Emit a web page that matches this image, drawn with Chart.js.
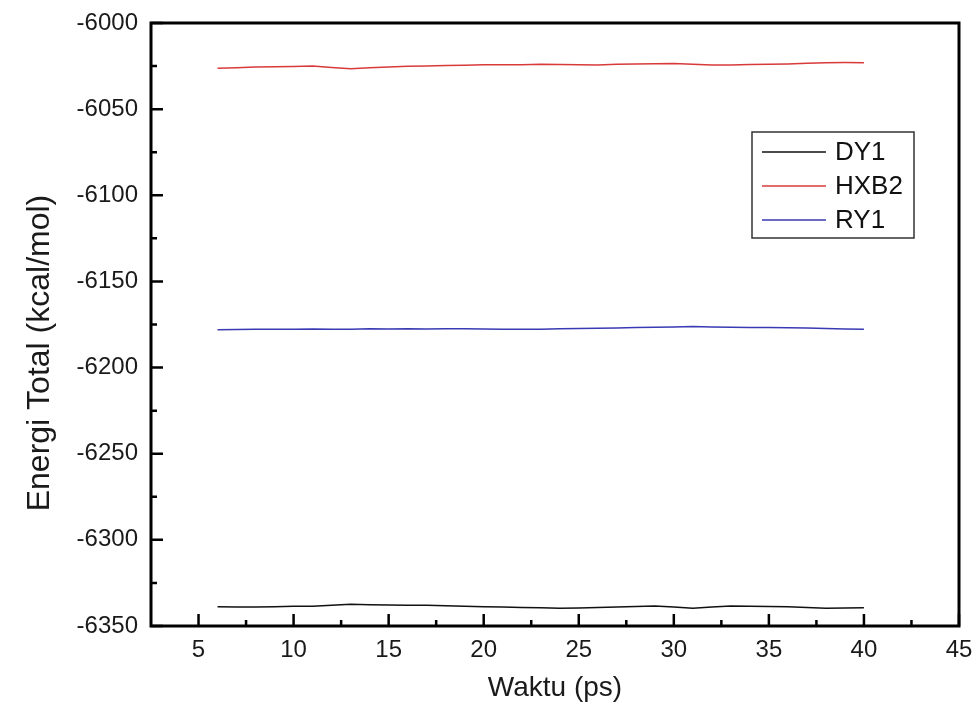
<!DOCTYPE html>
<html>
<head>
<meta charset="utf-8">
<script src="https://cdn.jsdelivr.net/npm/chart.js@4.4.1/dist/chart.umd.min.js"></script>
<style>
  html, body { margin: 0; padding: 0; background: #fff; }
  canvas { display: block; }
</style>
</head>
<body>
<canvas id="chart" width="976" height="709"></canvas>
<script>
// Time axis (ps) and total energy per system (kcal/mol)
const waktu = [6, 7, 8, 9, 10, 11, 12, 13, 14, 15, 16, 17, 18, 19, 20, 21, 22, 23,
    24, 25, 26, 27, 28, 29, 30, 31, 32, 33, 34, 35, 36, 37, 38, 39, 40];

const dy1 = [-6338.8, -6338.9, -6339.0, -6338.8, -6338.6, -6338.5, -6338.0, -6337.4, -6337.6,
    -6337.8, -6337.9, -6338.0, -6338.3, -6338.6, -6338.8, -6338.9, -6339.2, -6339.4, -6339.7,
    -6339.5, -6339.3, -6339.0, -6338.7, -6338.4, -6339.0, -6339.7, -6339.0, -6338.4, -6338.6,
    -6338.7, -6338.8, -6339.2, -6339.7, -6339.5, -6339.4];

const hxb2 = [-6026.2, -6026.0, -6025.6, -6025.4, -6025.2, -6025.0, -6025.8, -6026.5, -6026.0,
    -6025.6, -6025.1, -6024.9, -6024.7, -6024.5, -6024.3, -6024.2, -6024.3, -6024.0, -6024.1,
    -6024.3, -6024.4, -6024.0, -6023.8, -6023.6, -6023.5, -6024.0, -6024.4, -6024.4, -6024.1,
    -6024.0, -6023.8, -6023.4, -6023.0, -6022.9, -6023.0];

const ry1 = [-6178.0, -6177.9, -6177.8, -6177.8, -6177.7, -6177.6, -6177.8, -6177.7, -6177.5,
    -6177.6, -6177.4, -6177.6, -6177.5, -6177.4, -6177.6, -6177.7, -6177.8, -6177.8, -6177.5,
    -6177.3, -6177.2, -6177.0, -6176.8, -6176.6, -6176.4, -6176.2, -6176.4, -6176.6, -6176.7,
    -6176.8, -6176.9, -6177.1, -6177.3, -6177.6, -6177.8];

const seriesNames = ['DY1', 'HXB2', 'RY1'];
const seriesColors = ['#111111', '#d83a3a', '#3a3ab4'];

const xTicks = [5, 10, 15, 20, 25, 30, 35, 40, 45];
const yTicks = [-6000, -6050, -6100, -6150, -6200, -6250, -6300, -6350];

const FONT = "'Liberation Sans', Arial, sans-serif";

function toPoints(ys) {
    return ys.map((y, i) => ({ x: waktu[i], y: y }));
}

// frame with inward major/minor ticks, like the Origin plot
const framePlugin = {
    id: 'frame',
    afterDatasetsDraw(chart) {
        const { ctx, chartArea: a, scales } = chart;
        const xs = scales.x, ys = scales.y;
        ctx.save();
        ctx.strokeStyle = '#000';
        ctx.lineWidth = 2.5;
        ctx.beginPath();
        xTicks.forEach(v => {
            const px = xs.getPixelForValue(v);
            ctx.moveTo(px, a.bottom);
            ctx.lineTo(px, a.bottom - 12);
            const m = v + 2.5;
            if (m < xs.max) {
                const pm = xs.getPixelForValue(m);
                ctx.moveTo(pm, a.bottom);
                ctx.lineTo(pm, a.bottom - 6);
            }
        });
        yTicks.forEach(v => {
            const py = ys.getPixelForValue(v);
            ctx.moveTo(a.left, py);
            ctx.lineTo(a.left + 12, py);
            const m = v + 25;
            if (m < ys.max) {
                const pm = ys.getPixelForValue(m);
                ctx.moveTo(a.left, pm);
                ctx.lineTo(a.left + 6, pm);
            }
        });
        ctx.stroke();
        ctx.lineWidth = 3;
        ctx.strokeRect(a.left, a.top, a.right - a.left, a.bottom - a.top);
        ctx.restore();
    }
};

// boxed legend inside the plot, upper right
const legendPlugin = {
    id: 'boxLegend',
    afterDraw(chart) {
        const ctx = chart.ctx;
        ctx.save();
        ctx.strokeStyle = '#333';
        ctx.lineWidth = 1.5;
        ctx.strokeRect(752, 132, 162, 106);
        ctx.font = '26px ' + FONT;
        ctx.textBaseline = 'middle';
        ctx.textAlign = 'left';
        chart.data.datasets.forEach((ds, i) => {
            const y = 152 + i * 34;
            ctx.strokeStyle = ds.borderColor;
            ctx.lineWidth = 1.5;
            ctx.beginPath();
            ctx.moveTo(762, y);
            ctx.lineTo(826, y);
            ctx.stroke();
            ctx.fillStyle = '#111';
            ctx.fillText(ds.label, 835, y + 1);
        });
        ctx.restore();
    }
};

// y axis title, sits a bit below the centre of the axis
const yTitlePlugin = {
    id: 'yTitle',
    afterDraw(chart) {
        const ctx = chart.ctx;
        ctx.save();
        ctx.translate(40, 353);
        ctx.rotate(-Math.PI / 2);
        ctx.font = '32px ' + FONT;
        ctx.fillStyle = '#1a1a1a';
        ctx.textAlign = 'center';
        ctx.textBaseline = 'middle';
        ctx.fillText('Energi Total (kcal/mol)', 0, 0);
        ctx.restore();
    }
};

const ctx = document.getElementById('chart').getContext('2d');
const chart = new Chart(ctx, {
    type: 'line',
    data: {
        datasets: [dy1, hxb2, ry1].map((vals, i) => ({
            label: seriesNames[i],
            data: toPoints(vals),
            borderColor: seriesColors[i],
            borderWidth: 1.5,
            pointRadius: 0,
            tension: 0,
            fill: false
        }))
    },
    options: {
        responsive: false,
        animation: false,
        layout: { padding: { top: 23, right: 17, left: 0, bottom: 0 } },
        plugins: {
            legend: { display: false },
            tooltip: { enabled: false }
        },
        scales: {
            x: {
                type: 'linear',
                min: 2.5,
                max: 45,
                afterBuildTicks: s => { s.ticks = xTicks.map(v => ({ value: v })); },
                afterFit: s => { s.height = 83; s.paddingLeft = 0; s.paddingRight = 0; },
                grid: { display: false, drawTicks: false },
                border: { display: false },
                ticks: {
                    padding: 10,
                    color: '#1a1a1a',
                    font: { family: FONT, size: 24 },
                    maxRotation: 0,
                    callback: v => String(v)
                },
                title: {
                    display: true,
                    text: 'Waktu (ps)',
                    color: '#1a1a1a',
                    font: { family: FONT, size: 28 },
                    padding: { top: 0, bottom: 4 }
                }
            },
            y: {
                min: -6350,
                max: -6000,
                afterBuildTicks: s => { s.ticks = yTicks.map(v => ({ value: v })); },
                afterFit: s => { s.width = 151; s.paddingTop = 0; s.paddingBottom = 0; },
                grid: { display: false, drawTicks: false },
                border: { display: false },
                ticks: {
                    padding: 13,
                    color: '#1a1a1a',
                    font: { family: FONT, size: 24 },
                    callback: v => String(v)
                }
            }
        }
    },
    plugins: [framePlugin, legendPlugin, yTitlePlugin]
});
</script>
</body>
</html>
